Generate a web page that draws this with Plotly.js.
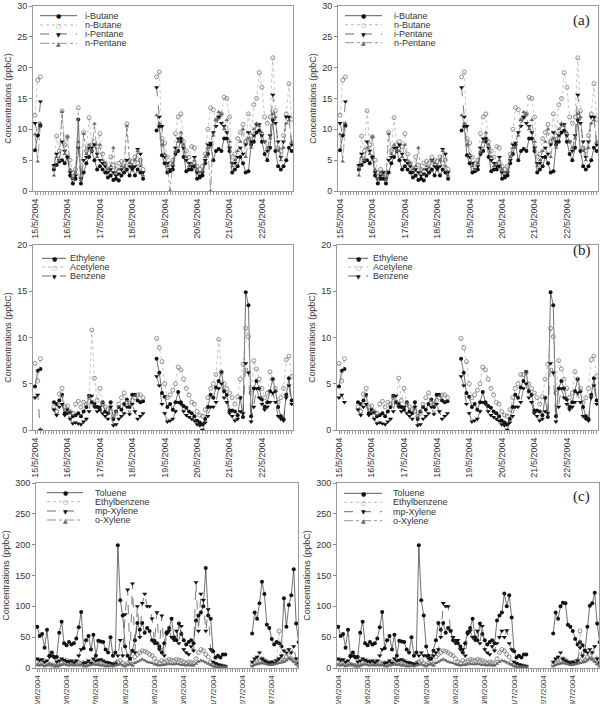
<!DOCTYPE html>
<html><head><meta charset="utf-8">
<script src="https://cdn.plot.ly/plotly-3.0.1.min.js"></script>
<style>body{margin:0;background:#fff}#chart{width:613px;height:704px}</style>
</head><body><div id="chart"></div>
<script>
const W = 613, H = 704;

// ---------- sampling times (2-hourly slots) ----------
function grid(startISO, n, stepH) {
  const t0 = Date.parse(startISO + ':00Z'); const out = [];
  for (let i = 0; i < n; i++) { const d = new Date(t0 + i * stepH * 3600000); out.push(d.toISOString().slice(0, 16).replace('T', ' ')); }
  return out;
}
const timesMay = grid('2004-05-15T00:00', 96, 2);
const timesJun = grid('2004-06-25T00:00', 108, 2);
const rangeMay = ['2004-05-14 22:30', '2004-05-22 23:00'];
const rangeJun = ['2004-06-24 23:00', '2004-07-03 21:30'];

// ---------- (a) left ----------
const iButaneL = [6.6,9.0,10.6, null,null,null,null,
 3.5,4.2,4.8,5.0,4.5,5.5,2.5,1.2,2.0,11.6,1.2,3.0,4.5,5.5,6.5,5.0,3.5,4.0,3.5,3.0,2.2,2.5,1.8,2.0,1.7,2.5,3.0,3.5,2.5,3.8,2.5,3.5,3.0,2.0,
 null,null,null,null,
 9.8,10.5,5.8,4.5,3.0,3.2,3.5,6.0,6.5,8.5,5.5,3.2,3.5,3.5,4.0,2.0,2.2,2.5,4.5,6.0,7.5,5.0,6.5,6.8,6.5,8.5,8.5,6.5,3.0,3.5,4.0,5.5,4.5,3.0,3.2,7.5,8.0,9.5,9.8,8.0,6.0,5.0,7.0,11.5,6.5,4.0,3.5,4.0,5.0,7.0,6.5];
const nButaneL = [12.3,18.0,18.5, null,null,null,null,
 4.0,8.9,6.5,13.0,7.5,8.8,5.0,3.0,3.5,13.5,2.5,9.5,6.5,11.9,7.5,8.0,7.2,9.3,6.0,4.5,3.5,5.5,4.2,3.5,4.5,4.8,4.5,10.9,5.0,4.8,5.5,4.5,5.0,3.5,
 null,null,null,null,
 18.5,19.3,8.5,7.8,5.5,4.5,5.0,9.3,12.0,12.5,8.0,6.5,5.5,7.2,7.0,4.0,3.5,4.0,6.0,10.0,13.5,13.2,11.5,12.0,12.5,15.2,15.0,12.0,5.5,6.0,8.5,9.5,10.8,8.0,12.5,9.0,14.0,15.0,19.2,16.8,12.0,11.0,12.0,21.6,13.0,7.0,6.5,9.0,12.5,17.4,11.6];
const iPentaneL = [11.0,9.0,14.5, null,null,null,null,
 4.2,6.0,5.0,8.0,6.5,5.5,3.0,2.0,2.5,7.0,2.0,5.0,5.5,7.0,7.0,7.5,6.0,5.0,4.5,4.0,3.0,3.5,3.0,2.5,2.8,3.5,3.0,5.0,4.0,3.5,4.0,6.8,6.0,3.0,
 null,null,null,null,
 16.8,12.0,10.5,5.5,4.5,3.5,4.0,7.0,8.5,8.0,7.0,5.0,4.5,4.0,5.5,3.0,2.5,3.0,5.0,7.5,7.8,9.5,10.5,12.0,11.0,10.5,9.5,7.0,4.5,4.5,5.5,7.0,6.0,7.5,9.5,8.0,9.0,10.8,10.8,9.0,8.0,6.5,9.0,15.6,11.0,8.0,5.5,8.0,12.0,12.0,7.5];
const nPentaneL = [9.2,4.8,11.0, null,null,null,null,
 2.5,5.5,5.0,12.8,6.0,8.8,3.5,2.0,3.0,8.0,1.8,9.3,6.0,7.5,6.5,10.9,5.5,7.5,5.0,4.5,3.5,4.0,7.0,3.0,3.5,4.0,3.8,10.5,4.5,4.2,5.0,6.5,4.0,2.5,
 null,null,null,null,
 12.3,11.0,7.5,6.0,4.0,0,4.5,6.5,8.0,9.5,7.5,5.5,4.0,4.5,5.0,3.5,3.0,3.2,5.5,7.0,0,9.0,11.5,12.8,12.5,10.0,11.5,8.0,4.0,5.0,6.5,8.0,10.0,5.5,8.5,7.0,10.0,11.0,10.5,9.5,8.0,7.0,8.5,12.5,12.0,6.5,5.0,7.0,11.0,11.5,8.0];

// ---------- (a) right ----------
const iButaneR = [6.6,9.0,10.6, null,null,null,null,
 3.5,4.2,4.8,5.0,4.5,5.5,2.5,1.2,2.0,2.0,1.2,3.0,4.5,5.5,6.5,5.0,3.5,4.0,3.5,3.0,2.2,2.5,1.8,2.0,1.7,2.5,3.0,3.5,2.5,3.8,2.5,3.5,3.0,2.0,
 null,null,null,null,
 9.8,10.5,5.8,4.5,3.0,3.2,3.5,6.0,6.5,8.5,5.5,3.2,3.5,3.5,4.0,2.0,2.2,2.5,4.5,6.0,7.5,5.0,6.5,6.8,6.5,8.5,8.5,6.5,3.0,3.5,4.0,5.5,4.5,3.0,3.2,7.5,8.0,9.5,9.8,8.0,6.0,5.0,7.0,11.5,6.5,4.0,3.5,4.0,5.0,7.0,6.5];
const nButaneR = [12.3,18.0,18.5, null,null,null,null,
 4.0,8.9,6.5,13.0,7.5,8.8,5.0,3.0,3.5,3.0,2.5,9.5,6.5,11.9,7.5,8.0,7.2,9.3,6.0,4.5,3.5,5.5,4.2,3.5,4.5,4.8,4.5,5.5,5.0,4.8,5.5,4.5,5.0,3.5,
 null,null,null,null,
 18.5,19.3,8.5,7.8,5.5,4.5,5.0,9.3,12.0,12.5,8.0,6.5,5.5,7.2,7.0,4.0,3.5,4.0,6.0,10.0,13.5,13.2,11.5,12.0,12.5,15.2,15.0,12.0,5.5,6.0,8.5,9.5,10.8,8.0,12.5,9.0,14.0,15.0,19.2,16.8,12.0,11.0,12.0,21.6,13.0,7.0,6.5,9.0,12.5,17.4,11.6];
const iPentaneR = [11.0,9.0,14.5, null,null,null,null,
 4.2,6.0,5.0,8.0,6.5,5.5,3.0,2.0,2.5,3.0,2.0,5.0,5.5,7.0,7.0,7.5,6.0,5.0,4.5,4.0,3.0,3.5,3.0,2.5,2.8,3.5,3.0,5.0,4.0,3.5,4.0,6.8,6.0,3.0,
 null,null,null,null,
 16.8,12.0,10.5,5.5,4.5,3.5,4.0,7.0,8.5,8.0,7.0,5.0,4.5,4.0,5.5,3.0,2.5,3.0,5.0,7.5,7.8,9.5,10.5,12.0,11.0,10.5,9.5,7.0,4.5,4.5,5.5,7.0,6.0,7.5,9.5,8.0,9.0,10.8,10.8,9.0,8.0,6.5,9.0,15.6,11.0,8.0,5.5,8.0,12.0,12.0,7.5];
const nPentaneR = [9.2,4.8,11.0, null,null,null,null,
 2.5,5.5,5.0,7.0,6.0,8.8,3.5,2.0,3.0,2.5,1.8,9.3,6.0,7.5,6.5,6.5,5.5,7.5,5.0,4.5,3.5,4.0,7.0,3.0,3.5,4.0,3.8,5.0,4.5,4.2,5.0,6.5,4.0,2.5,
 null,null,null,null,
 12.3,11.0,7.5,6.0,4.0,3.5,4.5,6.5,8.0,9.5,7.5,5.5,4.0,4.5,5.0,3.5,3.0,3.2,5.5,7.0,7.0,9.0,11.5,12.8,12.5,10.0,11.5,8.0,4.0,5.0,6.5,8.0,10.0,5.5,8.5,7.0,10.0,11.0,10.5,9.5,8.0,7.0,8.5,12.5,12.0,6.5,5.0,7.0,11.0,11.5,8.0];

// ---------- (b) left ----------
const ethyleneL = [4.7,6.4,6.6, null,null,null,null,
 3.0,2.8,3.2,3.8,1.8,2.2,1.9,1.5,1.6,1.8,1.5,2.0,2.5,3.7,3.0,2.8,2.5,2.2,3.0,2.0,1.8,3.0,1.2,2.0,2.5,2.2,2.8,3.3,2.5,3.8,3.8,3.2,3.0,3.1,
 null,null,null,null,
 7.7,6.2,4.0,3.6,2.5,2.8,2.2,3.0,4.1,3.0,2.6,2.4,2.0,1.8,1.5,1.0,0.8,0.6,1.2,2.5,3.8,3.5,4.6,5.3,6.3,4.2,3.8,
 2.1,2.1,2.0,1.6,3.5,1.4,14.9,13.5,1.5,4.5,5.3,4.5,3.3,2.5,3.0,4.2,5.5,4.2,2.5,1.5,1.2,3.8,5.6,3.2];
const acetyleneL = [7.2,5.3,7.7, null,null,null,null,
 2.5,2.0,3.9,4.5,2.5,2.6,2.0,1.8,2.8,3.1,2.5,3.0,2.8,3.5,10.8,5.6,3.2,4.5,2.8,2.5,2.2,2.0,1.5,1.8,2.8,3.5,4.0,3.0,2.8,3.2,3.5,3.8,3.8,3.5,
 null,null,null,null,
 9.9,8.9,7.4,5.0,3.5,3.8,4.3,5.0,6.8,6.5,5.5,4.5,3.8,3.0,2.8,2.0,1.6,1.5,2.2,3.5,4.5,5.0,6.0,9.8,6.2,5.0,4.5,
 4.0,3.5,2.8,3.6,5.5,7.1,11.0,10.1,4.0,7.5,6.6,5.5,4.5,3.5,4.0,6.3,5.5,4.5,3.0,3.5,4.5,7.6,8.0,5.8];
const benzeneL = [3.5,3.8,0, null,null,null,null,
 2.2,1.6,2.5,2.8,1.6,1.8,1.2,0.7,0.8,0.7,0.6,0.9,1.2,2.0,3.7,2.5,2.0,2.5,1.8,1.5,1.2,2.5,0.5,0.6,1.2,1.5,1.8,2.5,1.7,2.8,2.0,1.2,1.5,1.8,
 null,null,null,null,
 5.8,4.8,2.8,1.8,0.9,1.0,1.2,2.0,3.0,2.8,2.0,1.6,1.4,1.2,1.0,0.6,0.5,0.0,0.8,1.5,2.5,2.5,3.0,4.5,5.0,3.5,3.0,
 1.8,1.5,1.0,1.2,2.0,1.8,7.2,6.2,0.9,2.5,4.5,3.5,2.8,2.2,2.5,3.0,4.0,3.0,1.5,1.2,1.0,3.5,4.8,2.8];

// ---------- (b) right ----------
const ethyleneR = [4.7,6.4,6.6, null,null,null,null,
 3.0,2.8,3.2,3.8,1.8,2.2,1.9,1.5,1.6,1.8,1.5,2.0,2.5,3.7,3.0,2.8,2.5,2.2,3.0,2.0,1.8,3.0,1.2,2.0,2.5,2.2,2.8,3.3,2.5,3.8,3.8,3.2,3.0,3.1,
 null,null,null,null,
 7.7,6.2,4.0,3.6,2.5,2.8,2.2,3.0,4.1,3.0,2.6,2.4,2.0,1.8,1.5,1.0,0.8,0.6,1.2,2.5,3.8,3.5,4.6,5.3,6.3,4.2,3.8,
 2.1,2.1,2.0,1.6,3.5,1.4,14.9,13.5,1.5,4.5,5.3,4.5,3.3,2.5,3.0,4.2,5.5,4.2,2.5,1.5,1.2,3.8,5.6,3.2];
const acetyleneR = [7.2,5.3,7.7, null,null,null,null,
 2.5,2.0,3.9,4.5,2.5,2.6,2.0,1.8,2.8,3.1,2.5,3.0,2.8,3.5,3.0,5.6,3.2,4.5,2.8,2.5,2.2,2.0,1.5,1.8,2.8,3.5,4.0,3.0,2.8,3.2,3.5,3.8,3.8,3.5,
 null,null,null,null,
 9.9,8.9,7.4,5.0,3.5,3.8,4.3,5.0,6.8,6.5,5.5,4.5,3.8,3.0,2.8,2.0,1.6,1.5,2.2,3.5,4.5,5.0,6.0,6.0,6.2,5.0,4.5,
 4.0,3.5,2.8,3.6,5.5,7.1,11.0,10.1,4.0,7.5,6.6,5.5,4.5,3.5,4.0,6.3,5.5,4.5,3.0,3.5,4.5,7.6,8.0,5.8];
const benzeneR = [3.5,3.8,3.0, null,null,null,null,
 2.2,1.6,2.5,2.8,1.6,1.8,1.2,0.7,0.8,0.7,0.6,0.9,1.2,2.0,3.7,2.5,2.0,2.5,1.8,1.5,1.2,2.5,0.5,0.6,1.2,1.5,1.8,2.5,1.7,2.8,2.0,1.2,1.5,1.8,
 null,null,null,null,
 5.8,4.8,2.8,1.8,0.9,1.0,1.2,2.0,3.0,2.8,2.0,1.6,1.4,1.2,1.0,0.6,0.5,0.0,0.8,1.5,2.5,2.5,3.0,4.5,5.0,3.5,3.0,
 1.8,1.5,1.0,1.2,2.0,1.8,7.2,6.2,0.9,2.5,4.5,3.5,2.8,2.2,2.5,3.0,4.0,3.0,1.5,1.2,1.0,3.5,4.8,2.8];

// ---------- (c) left ----------
const tolueneL = [67,52,55,33,62,20,25,18,18,57, 75,40,37,42,38,40,48,66,91,32, 45,52,30,54,20,44,43,42,30,25,
 50,20,25,199,110,85,35,20,15,28, 45,73,62,73,57,65,60,45,44,40, 35,25,40,58,65,80,50,45,72,55,
 45,38,42,45,40,77,85,90,100,162, 85,80,27,17,20,17,22,22,
 null,null,null,null,null,null,null,null,null,null,
 56,90,80,105,140,120,70,65,47,38, 42,40,35,113,67,102,118,160,72,42];
const ethylbenzeneL = [10,9,8,7,8,6,5,4,3,5, 8,10,12,10,9,8,10,9,8,6, 5,7,8,10,9,10,8,7,6,5,
 6,5,8,10,12,8,5,8,10,6, 18,22,25,28,27,25,22,20,15,10, 8,12,10,12,14,13,12,14,13,12,
 10,8,10,9,8,15,25,30,28,22, 18,10,5,4,3,3,2,2,
 null,null,null,null,null,null,null,null,null,null,
 5,8,10,12,15,12,10,8,9,10, 12,60,15,12,18,20,15,12,8,5];
const mpXyleneL = [15,13,14,10,12,18,20,17,10,12, 15,13,11,10,12,9,12,20,30,8, 9,12,8,15,12,13,14,12,10,9,
 8,6,7,20,45,20,87,127,15,137, 25,100,50,105,120,100,100,80,40,90, 30,85,20,55,60,50,45,60,40,68,
 30,25,22,35,28,139,60,120,110,60, 95,30,10,8,6,5,4,3,
 null,null,null,null,null,null,null,null,null,null,
 10,15,18,25,15,12,10,8,10,8, 12,15,20,28,25,30,25,35,15,8];
const oXyleneL = [5,4,5,3,4,6,5,4,3,4, 5,6,5,4,5,4,5,4,5,3, 3,4,5,6,5,5,4,4,3,3,
 4,3,4,5,6,4,3,5,6,4, 8,10,12,14,12,10,9,8,6,5, 4,5,5,6,7,6,6,7,6,5,
 5,4,5,4,4,7,10,12,11,9, 7,5,3,2,2,2,2,2,
 null,null,null,null,null,null,null,null,null,null,
 3,5,6,7,8,7,6,5,5,6, 7,8,9,10,12,15,14,10,6,3];

// ---------- (c) right ----------
const tolueneR = [67,52,55,33,62,20,25,18,18,57, 75,40,37,42,38,40,48,66,91,32, 45,52,30,54,20,44,43,42,30,25,
 50,20,25,199,110,85,35,20,15,28, 45,73,62,73,57,65,60,45,44,40, 35,25,40,58,65,80,50,45,72,55,
 45,38,42,45,40,77,85,90,121,100, 118,82,27,17,20,17,22,22,
 null,null,null,null,null,null,null,null,null,null,
 56,90,80,100,106,105,70,67,60,47, 38,42,37,28,67,101,105,122,72,42];
const ethylbenzeneR = [10,9,8,7,8,6,5,4,3,5, 8,10,12,10,9,8,10,9,8,6, 5,7,8,10,9,10,8,7,6,5,
 6,5,8,10,12,8,5,8,10,6, 18,22,25,28,27,25,22,20,15,10, 8,12,10,12,14,13,12,14,13,12,
 10,8,10,9,8,15,25,30,28,22, 18,10,5,4,3,3,2,2,
 null,null,null,null,null,null,null,null,null,null,
 5,8,10,12,15,12,10,8,9,10, 12,60,15,12,18,20,15,12,8,5];
const mpXyleneR = [15,13,14,10,12,18,20,17,10,12, 15,13,11,10,12,9,12,20,30,8, 9,12,8,15,12,13,14,12,10,9,
 8,6,7,20,25,20,20,15,15,20, 25,30,50,105,100,100,60,50,40,45, 30,30,20,55,60,50,45,60,40,68,
 30,25,22,35,28,40,50,60,50,61, 40,30,10,8,6,5,4,3,
 null,null,null,null,null,null,null,null,null,null,
 10,15,18,25,15,12,10,8,10,8, 12,33,20,28,25,30,25,35,15,8];
const oXyleneR = [5,4,5,3,4,6,5,4,3,4, 5,6,5,4,5,4,5,4,5,3, 3,4,5,6,5,5,4,4,3,3,
 4,3,4,5,6,4,3,5,6,4, 8,10,12,14,12,10,9,8,6,5, 4,5,5,6,7,6,6,7,6,5,
 5,4,5,4,4,7,10,12,11,9, 7,5,3,2,2,2,2,2,
 null,null,null,null,null,null,null,null,null,null,
 3,5,6,7,8,7,6,5,5,6, 7,8,9,10,12,15,14,10,6,3];

const namesA = ['i-Butane','n-Butane','i-Pentane','n-Pentane'];
const namesB = ['Ethylene','Acetylene','Benzene'];
const namesC = ['Toluene','Ethylbenzene','mp-Xylene','o-Xylene'];
const yTitle = 'Concentrations (ppbC)';

// ---------- styling ----------
const FONT = 'Liberation Sans, Arial, sans-serif';
const STY = [
  {line:{color:'#333',width:0.7,dash:'solid'}, marker:{symbol:'circle',size:4,color:'#111'}, glyph:'●', gcol:'#111'},
  {line:{color:'#aaa',width:0.7,dash:'dot'}, marker:{symbol:'circle-open',size:4,color:'#777',line:{width:0.8,color:'#777'}}, glyph:'○', gcol:'#777'},
  {line:{color:'#444',width:0.7,dash:'dash'}, marker:{symbol:'triangle-down',size:4.5,color:'#111'}, glyph:'▼', gcol:'#111'},
  {line:{color:'#777',width:0.7,dash:'dashdot'}, marker:{symbol:'triangle-up',size:4,color:'#666'}, glyph:'▲', gcol:'#666'}
];

const panels = [
  {n:1, box:[33,293,6,191], t:timesMay, xr:rangeMay, t0:'2004-05-15', ymax:30, dt:5, xf:9, names:namesA, vals:[iButaneL,nButaneL,iPentaneL,nPentaneL], leg:{x0:40,x1:77,xt:84,ys:[15.7,25,34,43.3]}, tag:null},
  {n:2, box:[338,598,6,191], t:timesMay, xr:rangeMay, t0:'2004-05-15', ymax:30, dt:5, xf:9, names:namesA, vals:[iButaneR,nButaneR,iPentaneR,nPentaneR], leg:{x0:345,x1:382,xt:393,ys:[15.7,24.7,34,42.7]}, tag:'(a)', tagy:20},
  {n:3, box:[33,293,245,430], t:timesMay, xr:rangeMay, t0:'2004-05-15', ymax:20, dt:5, xf:9, names:namesB, vals:[ethyleneL,acetyleneL,benzeneL], leg:{x0:42,x1:66,xt:69,ys:[258.3,267,276]}, tag:null},
  {n:4, box:[337,598,245,430], t:timesMay, xr:rangeMay, t0:'2004-05-15', ymax:20, dt:5, xf:9, names:namesB, vals:[ethyleneR,acetyleneR,benzeneR], leg:{x0:348,x1:368,xt:372,ys:[258.3,267,276]}, tag:'(b)', tagy:250},
  {n:5, box:[36,298,483,668], t:timesJun, xr:rangeJun, t0:'2004-06-25', ymax:300, dt:50, xf:8, names:namesC, vals:[tolueneL,ethylbenzeneL,mpXyleneL,oXyleneL], leg:{x0:47,x1:83,xt:94,ys:[492.7,501.7,511,520]}, tag:null},
  {n:6, box:[337,599,483,668], t:timesJun, xr:rangeJun, t0:'2004-06-25', ymax:300, dt:50, xf:8, names:namesC, vals:[tolueneR,ethylbenzeneR,mpXyleneR,oXyleneR], leg:{x0:344,x1:382,xt:392,ys:[493.3,502.3,511.7,520.7]}, tag:'(c)', tagy:496}
];

const px = x => x / W, py = y => 1 - y / H;
const traces = [], shapes = [], annotations = [];
const layout = {
  width: W, height: H, margin:{l:0,r:0,t:0,b:0}, paper_bgcolor:'#fff', plot_bgcolor:'#fff',
  showlegend:false, font:{family:FONT, color:'#333'}
};

panels.forEach(p => {
  const sx = p.n === 1 ? '' : String(p.n);
  const [x0,x1,y0,y1] = p.box;
  layout['xaxis'+sx] = {
    domain:[px(x0), px(x1)], anchor:'y'+sx, type:'date', range:p.xr, tick0:p.t0, dtick:86400000,
    tickformat:'%-d/%-m/%Y', tickangle:-90, ticks:'outside', ticklen:3, tickcolor:'#888',
    tickfont:{size:p.xf, color:'#333', family:FONT}, showline:true, linecolor:'#999', linewidth:1, mirror:true,
    showgrid:false, zeroline:false, fixedrange:true,
    minor:{dtick:7200000, tick0:p.t0, ticks:'outside', ticklen:3, tickcolor:'#999', tickwidth:1, showgrid:false}
  };
  layout['yaxis'+sx] = {
    domain:[py(y1), py(y0)], anchor:'x'+sx, range:[0,p.ymax], dtick:p.dt, ticks:'outside', ticklen:3, tickcolor:'#888',
    tickfont:{size:9, color:'#333', family:FONT}, showline:true, linecolor:'#999', linewidth:1, mirror:true,
    showgrid:false, zeroline:false, fixedrange:true,
    title:{text:yTitle, font:{size:9, color:'#333', family:FONT}, standoff:4}
  };
  p.vals.forEach((v, i) => {
    const s = STY[i];
    traces.push({type:'scatter', mode:'lines+markers', x:p.t, y:v, xaxis:'x'+sx, yaxis:'y'+sx,
      name:p.names[i], line:s.line, marker:s.marker, connectgaps:false, hoverinfo:'skip', cliponaxis:true});
    const yy = p.leg.ys[i];
    shapes.push({type:'line', xref:'paper', yref:'paper', x0:px(p.leg.x0), x1:px(p.leg.x1), y0:py(yy), y1:py(yy),
      line:{color:s.line.color, width:0.8, dash:s.line.dash}});
    annotations.push({xref:'paper', yref:'paper', x:px((p.leg.x0+p.leg.x1)/2), y:py(yy), text:s.glyph, showarrow:false,
      xanchor:'center', yanchor:'middle', font:{size:6, color:s.gcol, family:'DejaVu Sans'}});
    annotations.push({xref:'paper', yref:'paper', x:px(p.leg.xt), y:py(yy), text:p.names[i], showarrow:false,
      xanchor:'left', yanchor:'middle', borderpad:0, font:{size:9, color:'#333', family:FONT}});
  });
  if (p.tag) {
    annotations.push({xref:'paper', yref:'paper', x:px(581.7), y:py(p.tagy), text:p.tag, showarrow:false,
      xanchor:'center', yanchor:'middle', font:{size:15, color:'#222', family:'Liberation Serif, Times New Roman, serif'}});
  }
});
layout.shapes = shapes;
layout.annotations = annotations;

Plotly.newPlot('chart', traces, layout, {staticPlot:true, displayModeBar:false});
</script>
</body></html>
